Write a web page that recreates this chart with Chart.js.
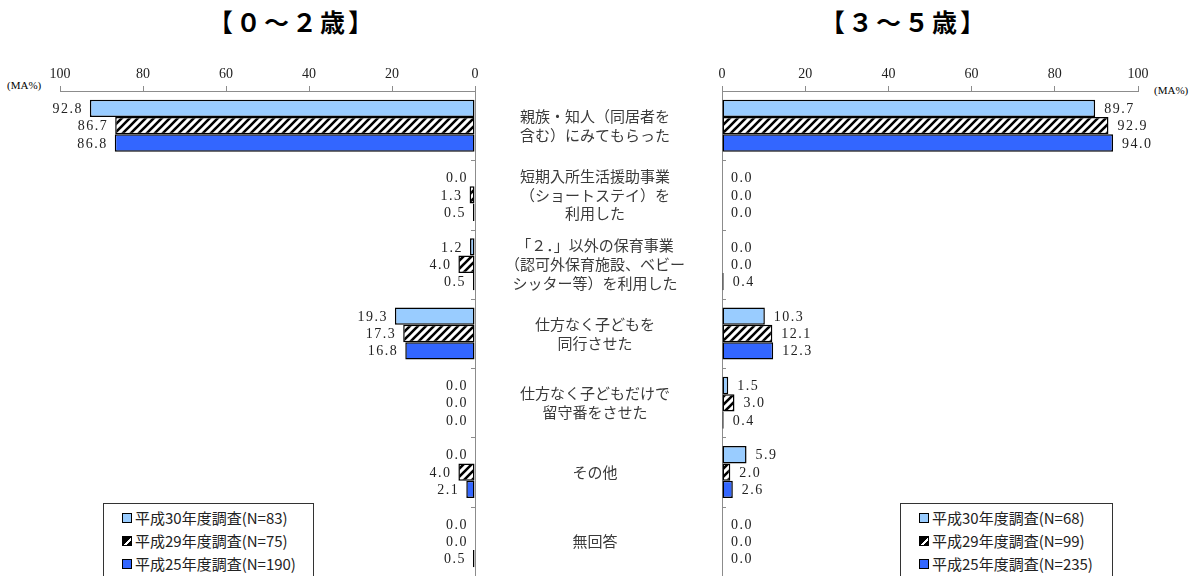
<!DOCTYPE html>
<html>
<head>
<meta charset="utf-8">
<script src="https://cdn.jsdelivr.net/npm/chart.js@4"></script>
<style>
  body { margin: 0; width: 1196px; height: 576px; overflow: hidden; background: #fff; position: relative; font-family: "Noto Sans CJK JP", sans-serif; }
  #wrap-left { position: absolute; left: 0; top: 0; width: 480px; height: 576px; }
  #wrap-right { position: absolute; left: 480px; top: 0; width: 716px; height: 576px; }
  .title { position: absolute; top: 3px; font-size: 25px; font-weight: bold; letter-spacing: 3px; color: #000; transform: translateX(-50%); white-space: nowrap; }
  .unit { position: absolute; font-family: "Liberation Serif", serif; font-size: 11px; color: #000; }
  .legend { position: absolute; top: 503px; height: 90px; border: 1px solid #333; background: #fff; box-sizing: border-box; }
  .legend div { position: absolute; font-size: 15px; line-height: 17px; color: #222; white-space: nowrap; }
  .legend span { display: inline-block; width: 8px; height: 8px; border: 1px solid #000; margin-right: 3px; vertical-align: 1px; }
</style>
</head>
<body>
<div class="title" style="left:292px">【０～２歳】</div>
<div class="title" style="left:904px">【３～５歳】</div>
<div class="unit" style="left:7px; top:79px">(MA%)</div>
<div class="unit" style="left:1154px; top:84px">(MA%)</div>
<div id="wrap-left"><canvas id="chart-0-2"></canvas></div>
<div id="wrap-right"><canvas id="chart-3-5"></canvas></div>
<div class="legend" id="legend-left" style="left:103px; width:211px"></div>
<div class="legend" id="legend-right" style="left:900px; width:213px"></div>
<script>
const categories = [
  ["親族・知人（同居者を", "含む）にみてもらった"],
  ["短期入所生活援助事業", "（ショートステイ）を", "利用した"],
  ["「２．」以外の保育事業", "（認可外保育施設、ベビー", "シッター等）を利用した"],
  ["仕方なく子どもを", "同行させた"],
  ["仕方なく子どもだけで", "留守番をさせた"],
  ["その他"],
  ["無回答"],
];

const xTicks = [0, 20, 40, 60, 80, 100];

// 0~2歳
const labels02 = ["平成30年度調査(N=83)", "平成29年度調査(N=75)", "平成25年度調査(N=190)"];
const h30_02 = [92.8, 0.0, 1.2, 19.3, 0.0, 0.0, 0.0];
const h29_02 = [86.7, 1.3, 4.0, 17.3, 0.0, 4.0, 0.0];
const h25_02 = [86.8, 0.5, 0.5, 16.8, 0.0, 2.1, 0.5];

// 3~5歳
const labels35 = ["平成30年度調査(N=68)", "平成29年度調査(N=99)", "平成25年度調査(N=235)"];
const h30_35 = [89.7, 0.0, 0.0, 10.3, 1.5, 5.9, 0.0];
const h29_35 = [92.9, 0.0, 0.0, 12.1, 3.0, 2.0, 0.0];
const h25_35 = [94.0, 0.0, 0.4, 12.3, 0.4, 2.6, 0.0];

const LIGHT = "#99CCFF";
const BLUE = "#3366FF";
const AXIS = "#8c8c8c";

function hatch() {
  const c = document.createElement("canvas");
  c.width = 8; c.height = 8;
  const g = c.getContext("2d");
  g.fillStyle = "#fff";
  g.fillRect(0, 0, 8, 8);
  g.strokeStyle = "#000";
  g.lineWidth = 2.6;
  g.beginPath();
  g.moveTo(-1, 9); g.lineTo(9, -1);
  g.moveTo(-3, 3); g.lineTo(3, -3);
  g.moveTo(5, 11); g.lineTo(11, 5);
  g.stroke();
  return g.createPattern(c, "repeat");
}
const HATCH = hatch();

function makeDatasets(names, a, b, c) {
  const base = { borderColor: "#000", borderWidth: 1.5, borderSkipped: false, categoryPercentage: 0.75, barPercentage: 1 };
  return [
    Object.assign({ label: names[0], data: a, backgroundColor: LIGHT }, base),
    Object.assign({ label: names[1], data: b, backgroundColor: HATCH }, base),
    Object.assign({ label: names[2], data: c, backgroundColor: BLUE }, base),
  ];
}

// value labels next to bar ends
const valueLabels = {
  id: "valueLabels",
  afterDatasetsDraw(chart, args, opts) {
    const ctx = chart.ctx;
    ctx.save();
    ctx.font = "14px 'Liberation Serif', serif";
    ctx.letterSpacing = "1.5px";
    ctx.fillStyle = "#222";
    ctx.textBaseline = "middle";
    chart.data.datasets.forEach((ds, di) => {
      chart.getDatasetMeta(di).data.forEach((bar, i) => {
        const txt = ds.data[i].toFixed(1);
        if (opts.side === "left") {
          ctx.textAlign = "right";
          ctx.fillText(txt, bar.x - 7, bar.y + 1);
        } else {
          ctx.textAlign = "left";
          ctx.fillText(txt, bar.x + 9, bar.y + 1);
        }
      });
    });
    ctx.restore();
  },
};

// short inward tick marks between categories on the value-zero axis
const catTicks = {
  id: "catTicks",
  afterDraw(chart, args, opts) {
    const y = chart.scales.y;
    const ctx = chart.ctx;
    const x0 = opts.side === "left" ? y.left : y.right;
    const dir = opts.side === "left" ? -1 : 1;
    ctx.save();
    ctx.strokeStyle = AXIS;
    ctx.lineWidth = 1;
    ctx.beginPath();
    for (let i = 1; i < categories.length; i++) {
      const py = Math.round((y.getPixelForValue(i - 1) + y.getPixelForValue(i)) / 2) + 0.5;
      ctx.moveTo(x0, py);
      ctx.lineTo(x0 + dir * 4, py);
    }
    ctx.stroke();
    ctx.restore();
  },
};

const xScale = (reverse) => ({
  position: "top",
  reverse: reverse,
  min: 0,
  max: 100,
  afterBuildTicks: (s) => { s.ticks = xTicks.map((v) => ({ value: v })); },
  afterFit: (s) => { s.height = 91; },
  grid: { drawOnChartArea: false, tickLength: 5, color: AXIS },
  border: { color: AXIS, width: 1 },
  ticks: { padding: 3, color: "#222", font: { family: "'Liberation Serif', serif", size: 14 } },
});

new Chart(document.getElementById("chart-0-2"), {
  type: "bar",
  data: { labels: categories, datasets: makeDatasets(labels02, h30_02, h29_02, h25_02) },
  options: {
    indexAxis: "y",
    responsive: true,
    maintainAspectRatio: false,
    animation: false,
    layout: { padding: { left: 60, right: 0, top: 0, bottom: 0 } },
    scales: {
      x: xScale(true),
      y: {
        position: "right",
        afterFit: (s) => { s.width = 5; s.paddingTop = 0; s.paddingBottom = 0; },
        grid: { display: false },
        border: { color: AXIS, width: 1 },
        ticks: { display: false },
      },
    },
    plugins: { legend: { display: false }, tooltip: { enabled: false }, valueLabels: { side: "left" }, catTicks: { side: "left" } },
  },
  plugins: [valueLabels, catTicks],
});

new Chart(document.getElementById("chart-3-5"), {
  type: "bar",
  data: { labels: categories, datasets: makeDatasets(labels35, h30_35, h29_35, h25_35) },
  options: {
    indexAxis: "y",
    responsive: true,
    maintainAspectRatio: false,
    animation: false,
    layout: { padding: { left: 0, right: 58, top: 0, bottom: 0 } },
    scales: {
      x: xScale(false),
      y: {
        position: "left",
        afterFit: (s) => { s.width = 242; s.paddingTop = 0; s.paddingBottom = 0; },
        grid: { drawOnChartArea: false, drawTicks: false },
        border: { color: AXIS, width: 1 },
        ticks: {
          crossAlign: "center",
          padding: 37,
          color: "#3a3a3a",
          font: { family: "'Noto Sans CJK JP', sans-serif", size: 15, lineHeight: 1.25 },
        },
      },
    },
    plugins: { legend: { display: false }, tooltip: { enabled: false }, valueLabels: { side: "right" }, catTicks: { side: "right" } },
  },
  plugins: [valueLabels, catTicks],
});

// HTML legends
function buildLegend(id, names) {
  const box = document.getElementById(id);
  const fills = [LIGHT, "linear-gradient(135deg, #000 0 55%, #fff 55% 72%, #000 72%)", BLUE];
  names.forEach((n, i) => {
    const d = document.createElement("div");
    d.style.left = "18px";
    d.style.top = (5 + i * 23) + "px";
    d.innerHTML = '<span style="background:' + fills[i] + '"></span>' + n;
    box.appendChild(d);
  });
}
buildLegend("legend-left", labels02);
buildLegend("legend-right", labels35);
</script>
</body>
</html>
